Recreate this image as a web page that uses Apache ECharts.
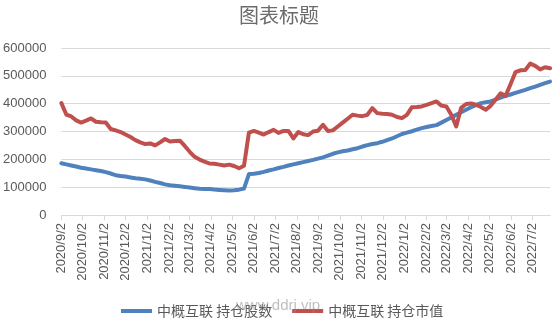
<!DOCTYPE html>
<html>
<head>
<meta charset="utf-8">
<script src="https://cdn.jsdelivr.net/npm/echarts@6/dist/echarts.min.js"></script>
<style>
  html, body { margin: 0; padding: 0; background: #fff; }
  #chart { width: 558px; height: 325px; }
</style>
</head>
<body>
<div id="chart"></div>
<script>
// Weekly observation dates
const weekDates = [
  '2020/9/2','2020/9/9','2020/9/16','2020/9/23','2020/9/30','2020/10/7','2020/10/14','2020/10/21','2020/10/28',
  '2020/11/4','2020/11/11','2020/11/18','2020/11/25','2020/12/2','2020/12/9','2020/12/16','2020/12/23','2020/12/30',
  '2021/1/6','2021/1/13','2021/1/20','2021/1/27','2021/2/3','2021/2/10','2021/2/17','2021/2/24',
  '2021/3/3','2021/3/10','2021/3/17','2021/3/24','2021/3/31','2021/4/7','2021/4/14','2021/4/21','2021/4/28',
  '2021/5/5','2021/5/12','2021/5/19','2021/5/26','2021/6/2','2021/6/9','2021/6/16','2021/6/23','2021/6/30',
  '2021/7/7','2021/7/14','2021/7/21','2021/7/28','2021/8/4','2021/8/11','2021/8/18','2021/8/25',
  '2021/9/1','2021/9/8','2021/9/15','2021/9/22','2021/9/29','2021/10/6','2021/10/13','2021/10/20','2021/10/27',
  '2021/11/3','2021/11/10','2021/11/17','2021/11/24','2021/12/1','2021/12/8','2021/12/15','2021/12/22','2021/12/29',
  '2022/1/5','2022/1/12','2022/1/19','2022/1/26','2022/2/2','2022/2/9','2022/2/16','2022/2/23',
  '2022/3/2','2022/3/9','2022/3/16','2022/3/23','2022/3/30','2022/4/6','2022/4/13','2022/4/20','2022/4/27',
  '2022/5/4','2022/5/11','2022/5/18','2022/5/25','2022/6/1','2022/6/8','2022/6/15','2022/6/22','2022/6/29',
  '2022/7/6','2022/7/13','2022/7/20','2022/7/27'
];

// 中概互联 持仓股数
const sharesHeld = [
  186000,182000,178000,174000,170000,167000,164000,161000,158000,154000,
  149000,143000,140000,138000,135000,132000,130000,128000,124000,119000,
  115000,110000,107000,105000,103000,101000,98600,96400,94200,93500,
  93200,91400,90000,88800,87800,89000,91000,95000,147000,148500,
  151000,155000,160000,164000,169000,173000,178000,182000,186000,190000,
  194000,198000,202500,207000,213000,220000,225000,229000,232000,236000,
  240000,246000,251000,255000,258000,263000,269000,275000,283000,291000,
  296000,301000,306500,312000,316000,320000,323000,332000,341000,350000,
  360000,369000,378000,387000,395000,402000,405000,408000,415000,422000,
  428000,433000,438500,444000,449500,455500,461500,467500,473500,479500
];

// 中概互联 持仓市值
const marketValue = [
  402000,361000,354000,340000,332000,339000,347000,335000,333000,332000,
  309000,304000,298000,289000,280000,269000,261000,255000,257000,250000,
  261000,273000,264000,266000,267000,248000,227000,209000,199000,192000,
  185000,184000,181000,178000,181000,176000,168000,177000,296000,302000,
  296000,289000,298000,306000,295000,302000,302000,275000,298000,290000,
  287000,300000,303000,324000,302000,304000,318000,332000,346000,360000,
  357000,355000,360000,384000,366000,364000,363000,360000,352000,348000,
  360000,387000,388000,390000,396000,402000,408000,393000,390000,360000,
  318000,385000,399000,401000,396000,388000,378000,393000,415000,437000,
  428000,470000,513000,520000,521000,544000,536000,523000,531000,527000
];

// Monthly axis labels
const tickLabels = [
  '2020/9/2','2020/10/2','2020/11/2','2020/12/2','2021/1/2','2021/2/2','2021/3/2','2021/4/2',
  '2021/5/2','2021/6/2','2021/7/2','2021/8/2','2021/9/2','2021/10/2','2021/11/2','2021/12/2',
  '2022/1/2','2022/2/2','2022/3/2','2022/4/2','2022/5/2','2022/6/2','2022/7/2'
];

const yTicks = [0, 100000, 200000, 300000, 400000, 500000, 600000];

const seriesNames = ['中概互联 持仓股数', '中概互联 持仓市值'];
const titleText = '图表标题';

// Dates become day numbers so the x axis spaces them by real calendar time
const DAY = 86400000;
function toDay(s) {
  const p = s.split('/').map(Number);
  return Math.round(Date.UTC(p[0], p[1] - 1, p[2]) / DAY);
}

const tickDays = tickLabels.map(toDay);
const labelByDay = {};
tickLabels.forEach((s, i) => { labelByDay[tickDays[i]] = s; });

const weekDays = weekDates.map(toDay);
const blueData = weekDays.map((d, i) => [d, sharesHeld[i]]);
const redData = weekDays.map((d, i) => [d, marketValue[i]]);

const FONT = '"Liberation Sans", "Noto Sans CJK SC", sans-serif';
const CJK = '"Noto Sans CJK SC", "Liberation Sans", sans-serif';

const chart = echarts.init(document.getElementById('chart'));
chart.setOption({
  animation: false,
  backgroundColor: '#ffffff',
  title: {
    text: titleText,
    left: 'center',
    top: 0,
    textStyle: { fontFamily: CJK, fontSize: 20, fontWeight: 'normal', color: '#6b6b6b' }
  },
  legend: {
    data: seriesNames,
    left: 116,
    top: 299,
    icon: 'rect',
    itemWidth: 31,
    itemHeight: 4,
    itemGap: 20,
    textStyle: { fontFamily: CJK, fontSize: 14, color: '#595959' }
  },
  grid: { left: 60, right: 8, top: 48, bottom: 110, containLabel: false },
  xAxis: {
    type: 'value',
    min: weekDays[0],
    max: weekDays[weekDays.length - 1],
    axisLine: { show: true, onZero: false, lineStyle: { color: '#d9d9d9', width: 1 } },
    axisTick: {
      show: true,
      customValues: tickDays,
      length: 5,
      lineStyle: { color: '#d9d9d9' }
    },
    axisLabel: {
      customValues: tickDays,
      rotate: 90,
      margin: 8,
      color: '#595959',
      fontFamily: FONT,
      fontSize: 13,
      formatter: function (v) { return labelByDay[v] || ''; }
    },
    splitLine: { show: false }
  },
  yAxis: {
    type: 'value',
    min: yTicks[0],
    max: yTicks[yTicks.length - 1],
    interval: 100000,
    axisLine: { show: false },
    axisTick: { show: false },
    axisLabel: {
      color: '#595959',
      fontFamily: FONT,
      fontSize: 13,
      margin: 15,
      formatter: function (v) { return String(v); }
    },
    splitLine: { lineStyle: { color: '#d9d9d9', width: 1 } }
  },
  series: [
    {
      name: seriesNames[0],
      type: 'line',
      data: blueData,
      symbol: 'none',
      smooth: false,
      color: '#4f81bd',
      lineStyle: { width: 4, color: '#4f81bd', join: 'round', cap: 'round' },
      z: 2
    },
    {
      name: seriesNames[1],
      type: 'line',
      data: redData,
      symbol: 'none',
      smooth: false,
      color: '#c0504d',
      lineStyle: { width: 4, color: '#c0504d', join: 'round', cap: 'round' },
      z: 3
    }
  ],
  graphic: [
    {
      type: 'text',
      left: 236,
      top: 298,
      z: 100,
      style: {
        text: 'www.ddrj.vip',
        fill: 'rgba(140,140,140,0.55)',
        font: '15px "Liberation Sans", sans-serif'
      }
    }
  ]
});
</script>
</body>
</html>
